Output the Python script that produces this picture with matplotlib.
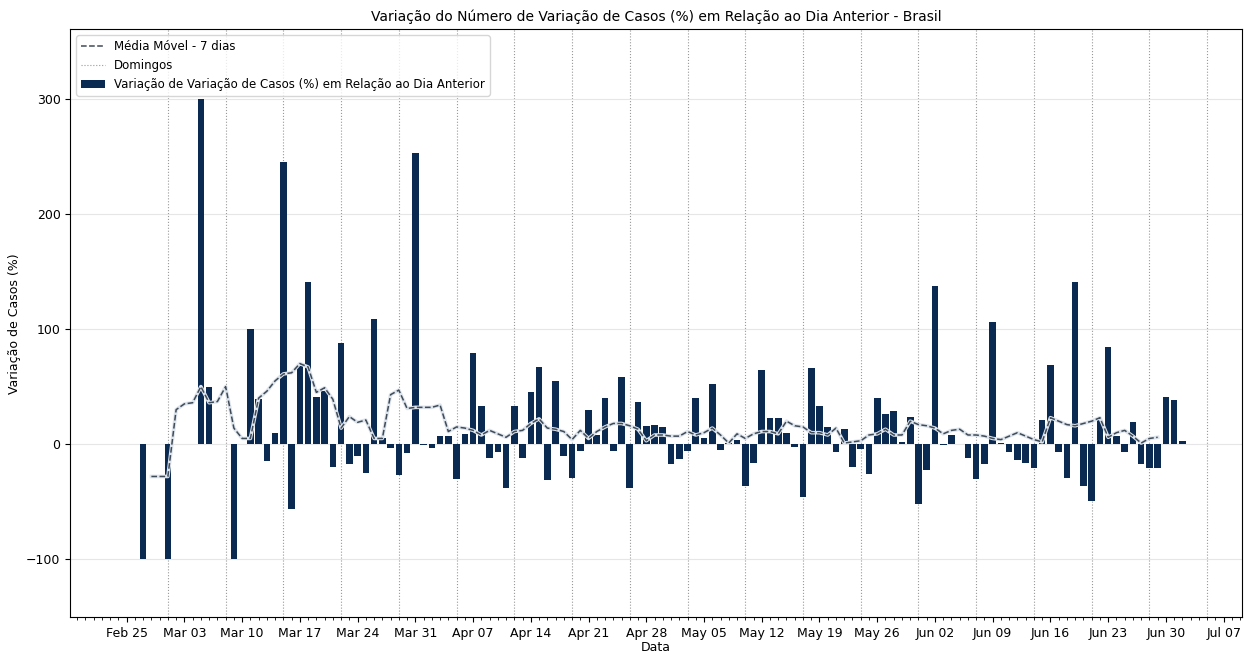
import numpy as np
import pandas as pd
import matplotlib
matplotlib.use('Agg')
import matplotlib.pyplot as plt
import matplotlib.dates as mdates

# -------------------- DATA --------------------
bar_start = '2020-02-27'
variacao = [
    -100, 0, 0,                                      # Feb 27-29
    -100, 0, 0, 0, 300, 50, 0, 0, -100, 0, 100, 39, -15, 10, 245, -56,
    68, 141, 41, 46, -20, 88, -17, -10, -25, 109, 5, -3, -27, -8, 253,  # Mar
    -1, -3, 7, 7, -30, 9, 79, 33, -12, -7, -38, 33, -12, 45, 67, -31,
    55, -10, -29, -6, 30, 8, 40, -6, 58, -38, 37, 16, 17, 15,           # Apr
    -17, -13, -6, 40, 5, 52, -5, 1, 4, -36, -16, 64, 23, 23, 10, -2,
    -46, 66, 33, 15, -7, 13, -20, -4, -26, 40, 26, 29, 2, 24, -52,      # May
    -22, 137, -1, 8, 0, -12, -30, -17, 106, 1, -7, -14, -16, -21, 21,
    69, -7, -29, 141, -36, -49, 21, 84, 7, -7, 19, -17, -21, -21, 41,   # Jun
    38, 3,                                                              # Jul
]

ma_start = '2020-02-28'
media_movel = [
    -28, -28,                                                            # Feb 28-29
    -28, 30, 35, 36, 50, 36, 37, 50, 14, 5, 5, 40, 46, 55, 61, 62,
    70, 67, 45, 49, 39, 14, 24, 19, 21, 5, 5, 43, 47, 31, 32,           # Mar
    32, 32, 34, 11, 15, 14, 12, 8, 12, 9, 6, 11, 12, 18, 22, 14,
    13, 11, 4, 12, 5, 11, 15, 18, 18, 16, 13, 3, 8, 8,                  # Apr
    7, 7, 11, 8, 10, 14, 8, 1, 9, 5, 9, 11, 11, 9, 20, 16,
    15, 10, 10, 8, 14, 1, 2, 3, 8, 9, 13, 8, 8, 20, 17,                 # May
    16, 14, 9, 12, 13, 8, 8, 7, 5, 4, 7, 10, 7, 4, 2,
    23, 20, 17, 16, 18, 20, 23, 6, 10, 12, 7, 1, 5, 6,                  # Jun 1-29
]

datas = pd.date_range(bar_start, periods=len(variacao), freq='D')
datas_mm = pd.date_range(ma_start, periods=len(media_movel), freq='D')
domingos = pd.date_range('2020-03-01', '2020-07-05', freq='W-SUN')

COR = '#0b2a52'

# -------------------- PLOT --------------------
fig = plt.figure(figsize=(12.44, 6.55), dpi=100)
ax = fig.add_axes([0.0565, 0.058, 0.9415, 0.897])

ax.bar(datas, variacao, width=0.8, color=COR, zorder=2,
       label='Variação de Variação de Casos (%) em Relação ao Dia Anterior')

for i, d in enumerate(domingos):
    ax.axvline(d, color='#999999', linestyle=':', linewidth=0.8, zorder=1,
               label='Domingos' if i == 0 else None)

ax.plot(datas_mm, media_movel, color='#dde4ec', linewidth=2.6, zorder=3)
ax.plot(datas_mm, media_movel, color='#404b58', linestyle='--', linewidth=1.1,
        zorder=4, label='Média Móvel - 7 dias')

ax.set_ylim(-150, 360)
ax.set_xlim(pd.Timestamp('2020-02-18 04:00'), pd.Timestamp('2020-07-09 04:00'))
ax.set_yticks([-100, 0, 100, 200, 300])
ax.yaxis.grid(True, color='#e6e6e6', linewidth=0.8, zorder=0)

ax.xaxis.set_major_locator(mdates.WeekdayLocator(byweekday=mdates.TU))
ax.xaxis.set_major_formatter(mdates.DateFormatter('%b %d'))
ax.xaxis.set_minor_locator(mdates.DayLocator())
ax.tick_params(labelsize=9)

ax.set_title('Variação do Número de Variação de Casos (%) em Relação ao Dia Anterior - Brasil',
             fontsize=10)
ax.set_xlabel('Data', fontsize=9, labelpad=1)
ax.set_ylabel('Variação de Casos (%)', fontsize=9)

handles, labels = ax.get_legend_handles_labels()
order = [labels.index('Média Móvel - 7 dias'), labels.index('Domingos'),
         labels.index('Variação de Variação de Casos (%) em Relação ao Dia Anterior')]
ax.legend([handles[i] for i in order], [labels[i] for i in order],
          loc='upper left', fontsize=8.5)

fig.savefig('out.png', dpi=100)
